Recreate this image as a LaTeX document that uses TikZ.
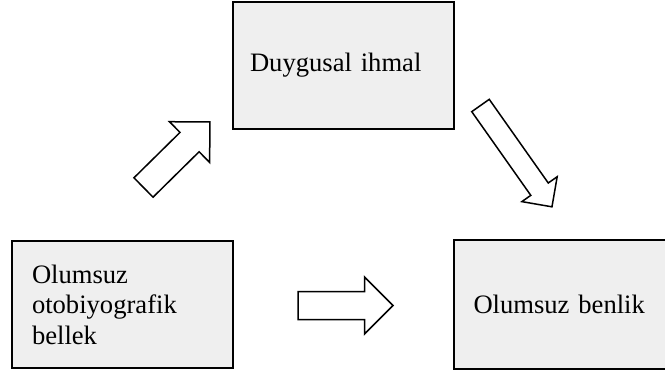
\documentclass[tikz,border=0pt]{standalone}
\usepackage{fontspec}
\setmainfont{Liberation Serif}
\definecolor{boxfill}{HTML}{EFEFEF}
\newcommand{\blockarrow}[7]{% name, x, y, angle, length, shaft half, head half
  \begin{scope}[shift={(#2,#3)}, rotate=#4]
    \draw[blockarr] (0,-#6) -- (#5-#7,-#6) -- (#5-#7,-#7) -- (#5,0)
      -- (#5-#7,#7) -- (#5-#7,#6) -- (0,#6) -- cycle;
    \coordinate (#1) at (#5/2,0);
  \end{scope}}
\begin{document}
\begin{tikzpicture}[x=1pt,y=-1pt,
  box/.style={draw=black, line width=1.6pt, fill=boxfill, rectangle,
    inner ysep=0pt, align=left,
    font=\fontsize{26.6}{30.5}\selectfont},
  blockarr/.style={draw=black, line width=1.5pt, fill=white, line join=miter}]
\useasboundingbox (0,0) rectangle (665,372);
\clip (0,0) rectangle (665,372);
\node[box, inner xsep=17pt, minimum width=221pt, minimum height=127pt, text width=187pt] (dh) at (343.5,65.5) {Duygusal ihmal};
\node[box, inner xsep=20pt, minimum width=221pt, minimum height=127pt, text width=181pt] (ob) at (122.5,304.5) {Olumsuz\\otobiyografik\\bellek};
\node[box, inner xsep=19.5pt, minimum width=232pt, minimum height=129pt, text width=193pt] (bn) at (570,304.5) {Olumsuz benlik};
\blockarrow{a1}{143.5}{187.5}{44.6}{93.3}{13.6}{28.6}
\blockarrow{a2}{480.5}{105.5}{-54.8}{124}{10.7}{21.6}
\blockarrow{a3}{298}{305.5}{0}{95}{14}{28.5}
\end{tikzpicture}
\end{document}
